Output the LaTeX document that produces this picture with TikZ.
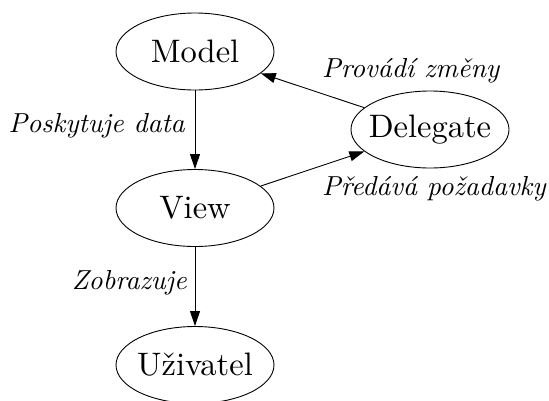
\documentclass[tikz,border=0pt]{standalone}
\usepackage{fontspec}
\setmainfont{lmroman10-regular.otf}[ItalicFont=lmroman10-italic.otf]
\usetikzlibrary{shapes.geometric,arrows.meta}
\tikzset{
  ell/.style={ellipse, draw, line width=0.9pt, minimum width=158pt, minimum height=77pt, inner xsep=-30pt, inner ysep=0pt, font=\fontsize{32.5}{40}\selectfont},
  lbl/.style={font=\fontsize{27.5}{33}\selectfont\itshape, inner sep=0pt},
  arr/.style={line width=0.9pt, -{Triangle[length=15pt,width=10pt]}}
}
\begin{document}
\begin{tikzpicture}[x=1pt,y=-1pt]
\useasboundingbox (0,0) rectangle (549,400);
\node[ell] (model) at (195,51.5) {Model};
\node[ell] (view) at (195,208) {View};
\node[ell] (user) at (195,365) {Uživatel};
\node[ell] (del) at (430,129.5) {Delegate};
\draw[arr] (model) -- (view);
\draw[arr] (view) -- (user);
\draw[arr] (del) -- (model);
\draw[arr] (view) -- (del);
\node[lbl, anchor=base east] (l1) at (185,132) {Poskytuje data};
\node[lbl, anchor=base east] (l2) at (187,289) {Zobrazuje};
\node[lbl, anchor=base west] (l3) at (322,77) {Provádí změny};
\node[lbl, anchor=base west] (l4) at (322,195) {Předává požadavky};
\end{tikzpicture}
\end{document}
